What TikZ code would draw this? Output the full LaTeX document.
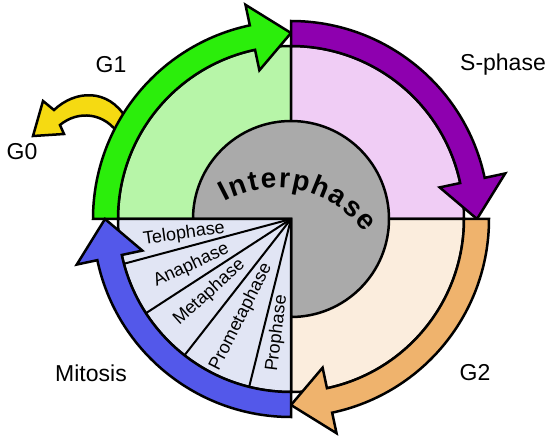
\documentclass[tikz,border=0pt]{standalone}
\usepackage{fontspec}
\setmainfont{Liberation Sans}
\usepackage{xcolor}
\usepackage{tikz}
\definecolor{C2BEE0B}{HTML}{2BEE0B}
\definecolor{CB7F5A8}{HTML}{B7F5A8}
\definecolor{C8E00AF}{HTML}{8E00AF}
\definecolor{CF0CDF5}{HTML}{F0CDF5}
\definecolor{CEFB36D}{HTML}{EFB36D}
\definecolor{CFBEDDD}{HTML}{FBEDDD}
\definecolor{C5358EA}{HTML}{5358EA}
\definecolor{CE1E5F4}{HTML}{E1E5F4}
\definecolor{CAAAAAA}{HTML}{AAAAAA}
\definecolor{CF5DA12}{HTML}{F5DA12}

\begin{document}
\begin{tikzpicture}[inner sep=0pt,
  outl/.style={draw, line width=2.5pt},
  interlbl/.style={anchor=base,font=\fontsize{28}{28}\selectfont\bfseries},
  phaselbl/.style={align=center,font=\fontsize{18}{19}\selectfont},
  cyclelbl/.style={align=center,font=\fontsize{23}{25}\selectfont}]
\useasboundingbox (0pt,0pt) rectangle (550pt,-436pt);
% G0 exit
\path [fill=CF5DA12,outl] (126pt,-118pt) .. controls (108pt,-88pt) and (75pt,-90pt) .. (54pt,-110pt) -- (43pt,-101pt) -- (33pt,-136pt) -- (64pt,-134pt) -- (60pt,-125pt) .. controls (78pt,-110pt) and (105pt,-112pt) .. (120pt,-136pt) -- cycle;
\begin{scope}[shift={(291pt,-219pt)}]
\path [fill=CB7F5A8,outl] (0pt,0pt) -- (180:173pt) arc[start angle=180, end angle=90, radius=173pt] -- cycle;
\path [fill=CF0CDF5,outl] (0pt,0pt) -- (90:173pt) arc[start angle=90, end angle=0, radius=173pt] -- cycle;
\path [fill=CFBEDDD,outl] (0pt,0pt) -- (0:173pt) arc[start angle=0, end angle=-90, radius=173pt] -- cycle;
\path [fill=CAAAAAA,outl] (0pt,0pt) -- (-90:98pt) arc[start angle=-90, end angle=180, radius=98pt] -- cycle;
\end{scope}
% Interphase, letter by letter on a flat arc
\begin{scope}[shift={(277pt,-296pt)}]
\node (ip1) [interlbl, rotate=27, at={(117:108pt)}] {I};
\node (ip2) [interlbl, rotate=19.5, at={(109.5:108pt)}] {n};
\node (ip3) [interlbl, rotate=11.7, at={(101.7:108pt)}] {t};
\node (ip4) [interlbl, rotate=4.2, at={(94.2:108pt)}] {e};
\node (ip5) [interlbl, rotate=-3.7, at={(86.3:108pt)}] {r};
\node (ip6) [interlbl, rotate=-12, at={(78:108pt)}] {p};
\node (ip7) [interlbl, rotate=-22, at={(68:108pt)}] {h};
\node (ip8) [interlbl, rotate=-31.5, at={(58.5:108pt)}] {a};
\node (ip9) [interlbl, rotate=-40.7, at={(49.3:108pt)}] {s};
\node (ip10) [interlbl, rotate=-49.8, at={(40.2:108pt)}] {e};
\end{scope}
\begin{scope}[shift={(291pt,-219pt)}]
% mitosis fan
\path [fill=CE1E5F4,outl] (0pt,0pt) -- (-90:173pt) arc[start angle=-90, end angle=-180, radius=173pt] -- cycle;
\path [draw, line width=2pt] (0pt,0pt) -- (195:173pt);
\path [draw, line width=2pt] (0pt,0pt) -- (213:173pt);
\path [draw, line width=2pt] (0pt,0pt) -- (232:173pt);
\path [draw, line width=2pt] (0pt,0pt) -- (256:173pt);
\node (telo) [phaselbl, rotate=8, at={(188:108pt)}] {Telophase};
\node (ana) [phaselbl, rotate=25, at={(205:110pt)}] {Anaphase};
\node (meta) [phaselbl, rotate=42, at={(222:110pt)}] {Metaphase};
\node (prometa) [phaselbl, rotate=63, at={(243:110pt)}] {Prometaphase};
\node (pro) [phaselbl, rotate=83, at={(263:115pt)}] {Prophase};
% cycle arrows
\path [fill=C2BEE0B,outl] (180:198pt) arc[start angle=180, end angle=102, radius=198pt] -- (102:219pt) -- (90:186pt) -- (102:152pt) -- (102:173pt) arc[start angle=102, end angle=180, radius=173pt] -- cycle;
\path [fill=C8E00AF,outl] (90:198pt) arc[start angle=90, end angle=12, radius=198pt] -- (12:219pt) -- (0:186pt) -- (12:152pt) -- (12:173pt) arc[start angle=12, end angle=90, radius=173pt] -- cycle;
\path [fill=CEFB36D,outl] (0:198pt) arc[start angle=0, end angle=-78, radius=198pt] -- (-78:219pt) -- (-90:186pt) -- (-78:152pt) -- (-78:173pt) arc[start angle=-78, end angle=0, radius=173pt] -- cycle;
\path [fill=C5358EA,outl] (-90:198pt) arc[start angle=-90, end angle=-168, radius=198pt] -- (-168:219pt) -- (-180:186pt) -- (-168:152pt) -- (-168:173pt) arc[start angle=-168, end angle=-90, radius=173pt] -- cycle;
\end{scope}
\node (g1) [cyclelbl, at={(111pt,-65pt)}] {G1};
\node (sph) [cyclelbl, at={(503pt,-65pt)}] {S-phase};
\node (g0) [cyclelbl, at={(22pt,-152pt)}] {G0};
\node (mit) [cyclelbl, at={(91pt,-373pt)}] {Mitosis};
\node (g2) [cyclelbl, at={(475pt,-373pt)}] {G2};
\end{tikzpicture}
\end{document}
